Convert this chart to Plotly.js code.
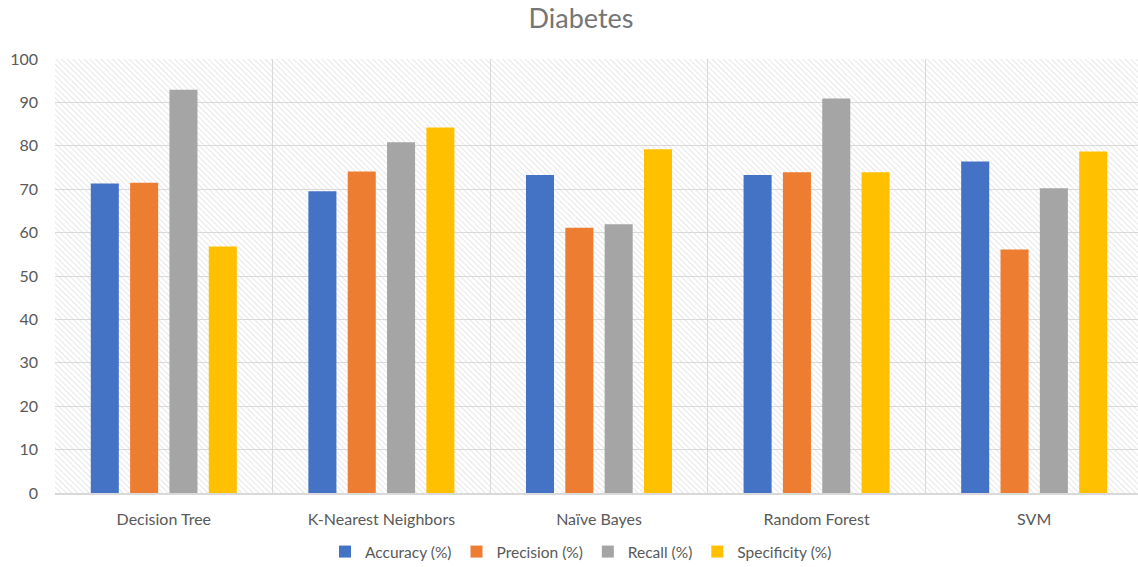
<!DOCTYPE html>
<html>
<head>
<meta charset="utf-8">
<script src="https://cdn.plot.ly/plotly-3.0.1.min.js"></script>
<style>
html,body{margin:0;padding:0;overflow:hidden;background:#fff;}
#chart{width:1146px;height:567px;}
</style>
</head>
<body>
<div id="chart"></div>
<script>
const categories = ["Decision Tree", "K-Nearest Neighbors", "Naïve Bayes", "Random Forest", "SVM"];
const seriesNames = ["Accuracy (%)", "Precision (%)", "Recall (%)", "Specificity (%)"];
const accuracy    = [71.3, 69.5, 73.3, 73.3, 76.4];
const precision   = [71.5, 74.1, 61.1, 73.9, 56.1];
const recall      = [92.9, 80.8, 61.9, 90.9, 70.2];
const specificity = [56.8, 84.2, 79.2, 73.9, 78.7];
const colors = ["#4472C4", "#ED7D31", "#A5A5A5", "#FFC000"];
const yTicks = [0, 10, 20, 30, 40, 50, 60, 70, 80, 90, 100];

const seriesValues = [accuracy, precision, recall, specificity];
const traces = seriesValues.map((vals, i) => ({
  type: "bar",
  name: seriesNames[i],
  x: categories,
  y: vals,
  marker: {color: colors[i], line: {width: 0}},
  hoverinfo: "x+y+name"
}));

// diagonal hatch background for plot area
const W = 1088, H = 435;
const svg = `<svg xmlns="http://www.w3.org/2000/svg" width="${W}" height="${H}" viewBox="0 0 ${W} ${H}" preserveAspectRatio="none">` +
  `<defs><pattern id="h" patternUnits="userSpaceOnUse" width="4" height="4" patternTransform="rotate(-45)">` +
  `<line x1="0" y1="0" x2="0" y2="4" stroke="#d6d6d6" stroke-width="1.2"/></pattern></defs>` +
  `<rect width="${W}" height="${H}" fill="url(#h)"/></svg>`;
const hatch = "data:image/svg+xml;base64," + btoa(svg);

const fontFam = "Lato, 'Open Sans', sans-serif";

const layout = {
  width: 1146,
  height: 567,
  autosize: false,
  margin: {l: 55, r: 3, t: 58.5, b: 73.5},
  paper_bgcolor: "#ffffff",
  plot_bgcolor: "#ffffff",
  font: {family: fontFam, color: "#595959", size: 16},
  title: {
    text: "Diabetes",
    font: {family: fontFam, size: 27, color: "#757575"},
    x: 581 / 1146,
    xref: "container",
    xanchor: "center",
    y: 1 - 19 / 567,
    yref: "container",
    yanchor: "middle"
  },
  barmode: "group",
  bargap: 0.277,
  bargroupgap: 0.287,
  xaxis: {
    type: "category",
    tickson: "boundaries",
    showgrid: true,
    gridcolor: "#d9d9d9",
    gridwidth: 1,
    showline: true,
    linecolor: "#d9d9d9",
    linewidth: 1.5,
    ticks: "",
    ticklabelstandoff: 11,
    tickfont: {size: 16, color: "#595959"},
    zeroline: false
  },
  yaxis: {
    range: [0, 100],
    tickvals: yTicks,
    ticktext: yTicks.map(String),
    showgrid: true,
    gridcolor: "#d9d9d9",
    gridwidth: 1,
    showline: false,
    zeroline: false,
    ticks: "",
    ticklabelstandoff: 16,
    tickfont: {size: 16, color: "#595959"}
  },
  legend: {
    orientation: "h",
    x: 581 / 1146,
    xref: "container",
    xanchor: "center",
    y: 1 - 552 / 567,
    yref: "container",
    yanchor: "middle",
    font: {size: 15.5, color: "#595959"},
    itemwidth: 30,
    traceorder: "normal"
  },
  images: [{
    source: hatch,
    xref: "paper", yref: "paper",
    x: 0, y: 1, sizex: 1, sizey: 1,
    xanchor: "left", yanchor: "top",
    sizing: "stretch",
    layer: "below"
  }]
};

Plotly.newPlot("chart", traces, layout, {displayModeBar: false, staticPlot: true});
</script>
</body>
</html>
